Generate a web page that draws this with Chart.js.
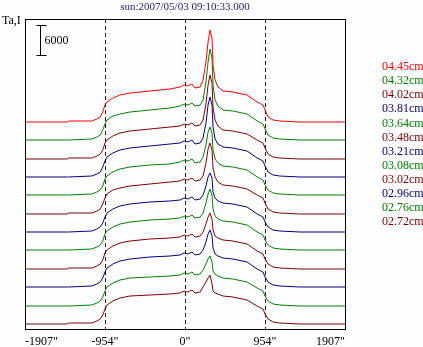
<!DOCTYPE html>
<html>
<head>
<meta charset="utf-8">
<script src="https://cdn.jsdelivr.net/npm/chart.js@4/dist/chart.umd.min.js"></script>
<style>
  body { margin: 0; background: #fdfefd; }
  #wrap { width: 423px; height: 347px; }
</style>
</head>
<body>
<div id="wrap"><canvas id="myChart" width="423" height="347"></canvas></div>
<script>
// position along the slit, arcsec
var xs = [-1907, -1400, -1390, -1110, -1050, -1010, -980, -954, -930, -860, -775, -655, -420, -180, -60, -12,
  36, 83, 119, 180, 215, 250, 275, 298, 322, 334, 358, 393, 453, 570, 740, 860, 930, 954, 990, 1050, 1130, 1370, 1907];

var xTicks = [-1907, -954, 0, 954, 1907];
var limbLines = [-954, 0, 954];

var labels = ['04.45cm', '04.32cm', '04.02cm', '03.81cm', '03.64cm', '03.48cm',
  '03.21cm', '03.08cm', '03.02cm', '02.96cm', '02.76cm', '02.72cm'];
var colors = ['#ff0000', '#008000', '#800000', '#000080', '#008000', '#800000',
  '#000080', '#008000', '#800000', '#000080', '#008000', '#800000'];

// vertical shift of each curve (Ta)
var offsets = [41400, 37800, 34000, 30400, 26800, 23000, 19400, 15800, 12000, 8400, 4600, 1000];

var ta445 = [0,0,200,200,600,1000,2000,3400,4000,4800,5400,5800,6200,6600,7000,7400,7200,7600,6800,7000,8400,12000,16000,18400,16800,11400,8400,7000,6200,6000,5400,4000,3400,2400,1000,400,200,0,0];
var ta432 = [0,0,0,200,600,1000,2000,3200,4000,4800,5200,5600,6000,6400,6800,7200,7000,7400,6800,7000,8000,11600,15600,18200,16400,11000,8000,6800,6000,5800,5200,3800,3200,2200,1000,400,200,0,0];
var ta402 = [0,0,200,200,600,1000,1800,3200,3800,4600,5200,5600,6000,6400,6600,7000,6800,7200,6600,6800,7800,11000,14800,16800,15200,10400,7800,6600,5800,5600,5000,3800,3200,2200,1000,400,200,0,0];
var ta381 = [0,0,0,200,600,1000,2000,3200,4000,4800,5400,5800,6200,6600,6800,7200,7000,7400,6600,6800,7800,10800,14400,16000,14400,10000,7600,6600,6000,5800,5200,3800,3200,2200,1000,400,200,0,0];
var ta364 = [0,0,0,200,600,1000,1800,3200,3800,4600,5200,5600,6000,6200,6600,7000,6800,7200,6400,6600,7600,10000,12600,13600,12400,9000,7200,6400,5800,5600,5000,3600,3000,2000,1000,400,200,0,0];
var ta348 = [0,0,200,200,600,1000,2000,3200,4000,4800,5200,5600,6000,6400,6600,7000,6800,7200,6600,6800,7600,10200,13000,14200,12800,9200,7400,6400,5800,5600,5000,3800,3200,2200,1000,400,200,0,0];
var ta321 = [0,0,0,200,600,1000,1800,3000,3800,4600,5200,5600,6000,6200,6400,6800,6600,7000,6400,6600,7400,9200,11000,11800,10800,8000,6800,6200,5800,5600,5000,3600,3000,2000,1000,400,200,0,0];
var ta308 = [0,0,0,200,600,1000,1800,3200,3800,4600,5200,5600,6000,6200,6400,6800,6600,7000,6400,6600,7400,9400,11200,12200,11000,8200,6800,6200,5800,5600,5000,3600,3000,2000,1000,400,200,0,0];
var ta302 = [0,0,200,200,600,1000,1800,3200,3800,4600,5200,5600,6000,6200,6400,6800,6600,7000,6400,6600,7400,9000,10400,11200,10000,7800,6600,6200,5800,5600,5000,3600,3000,2000,1000,400,200,0,0];
var ta296 = [0,0,0,200,600,1000,1800,3000,3800,4600,5200,5600,6000,6200,6400,6800,6600,7000,6400,6600,7400,9000,10600,11400,10200,7800,6600,6200,5800,5600,5000,3600,3000,2000,1000,400,200,0,0];
var ta276 = [0,0,0,200,600,1000,1800,3000,3800,4600,5200,5600,5800,6000,6200,6600,6400,6800,6200,6400,7200,8400,9400,10000,8800,7000,6400,6000,5600,5400,4800,3600,3000,2000,1000,400,200,0,0];
var ta272 = [0,0,200,200,600,1000,1800,3000,3800,4600,5200,5600,5800,6000,6200,6600,6400,6800,6200,6400,7400,8400,9200,9800,8000,6600,6200,6000,5600,5400,4800,3600,3000,2000,1000,400,200,0,0];

var series = [ta445, ta432, ta402, ta381, ta364, ta348, ta321, ta308, ta302, ta296, ta276, ta272];
var scaleBarValue = 6000;
var titleText = 'sun:2007/05/03 09:10:33.000';

var datasets = series.map(function (vals, i) {
  return {
    label: labels[i],
    data: vals.map(function (v, j) { return { x: xs[j], y: v + offsets[i] }; }),
    borderColor: colors[i],
    borderWidth: 1,
    pointRadius: 0,
    tension: 0,
    fill: false
  };
});

var serif = 'Liberation Serif, Times New Roman, serif';

var decor = {
  id: 'decor',
  beforeDatasetsDraw: function (chart) {
    var ctx = chart.ctx, a = chart.chartArea, xs_ = chart.scales.x;
    ctx.save();
    ctx.strokeStyle = '#3c1414';
    ctx.lineWidth = 1;
    ctx.setLineDash([4, 3]);
    limbLines.forEach(function (v) {
      var px = Math.round(xs_.getPixelForValue(v)) + 0.5;
      ctx.beginPath();
      ctx.moveTo(px, a.top);
      ctx.lineTo(px, a.bottom);
      ctx.stroke();
    });
    ctx.restore();
  },
  afterDatasetsDraw: function (chart) {
    var ctx = chart.ctx, a = chart.chartArea, ys = chart.scales.y;
    ctx.save();
    // frame
    ctx.strokeStyle = '#000';
    ctx.lineWidth = 1;
    ctx.strokeRect(a.left + 0.5, a.top + 0.5, a.right - a.left, a.bottom - a.top);

    // scale bar
    var top = Math.round(ys.getPixelForValue(60800)) + 0.5;
    var bot = Math.round(ys.getPixelForValue(60800 - scaleBarValue)) + 0.5;
    var bx = a.left + 15.5;
    ctx.beginPath();
    ctx.moveTo(bx, top); ctx.lineTo(bx, bot);
    ctx.moveTo(bx - 4, top); ctx.lineTo(bx + 6, top);
    ctx.moveTo(bx - 4, bot); ctx.lineTo(bx + 6, bot);
    ctx.stroke();
    ctx.fillStyle = '#000';
    ctx.font = '12px ' + serif;
    ctx.textBaseline = 'middle';
    ctx.textAlign = 'left';
    ctx.fillText(String(scaleBarValue), bx + 4, (top + bot) / 2);

    // axis name
    ctx.fillText('Ta,I', 2, 21);

    // title
    ctx.font = '11px ' + serif;
    ctx.fillStyle = '#1a1a70';
    ctx.textAlign = 'center';
    ctx.fillText(titleText, (a.left + a.right) / 2, 7);

    // legend
    ctx.font = '12px ' + serif;
    ctx.textAlign = 'left';
    labels.forEach(function (lab, i) {
      ctx.fillStyle = colors[i];
      ctx.fillText(lab, 382, 67 + i * 14.1);
    });
    ctx.restore();
  }
};

var myChart = new Chart(document.getElementById('myChart').getContext('2d'), {
  type: 'line',
  data: { datasets: datasets },
  plugins: [decor],
  options: {
    responsive: false,
    animation: false,
    layout: { padding: { left: 25, top: 19, right: 78, bottom: 0 } },
    plugins: { legend: { display: false }, title: { display: false }, tooltip: { enabled: false } },
    scales: {
      x: {
        type: 'linear',
        min: -1907,
        max: 1907,
        grid: { display: false, drawTicks: false, tickLength: 0 },
        border: { display: false },
        afterBuildTicks: function (scale) {
          scale.ticks = xTicks.map(function (v) { return { value: v }; });
        },
        afterFit: function (scale) { scale.height = 18; },
        ticks: {
          align: 'inner',
          padding: 6,
          maxRotation: 0,
          autoSkip: false,
          color: '#000',
          font: { family: serif, size: 12 },
          callback: function (v) { return v + '"'; }
        }
      },
      y: { display: false, min: 0, max: 62000 }
    }
  }
});
</script>
</body>
</html>
